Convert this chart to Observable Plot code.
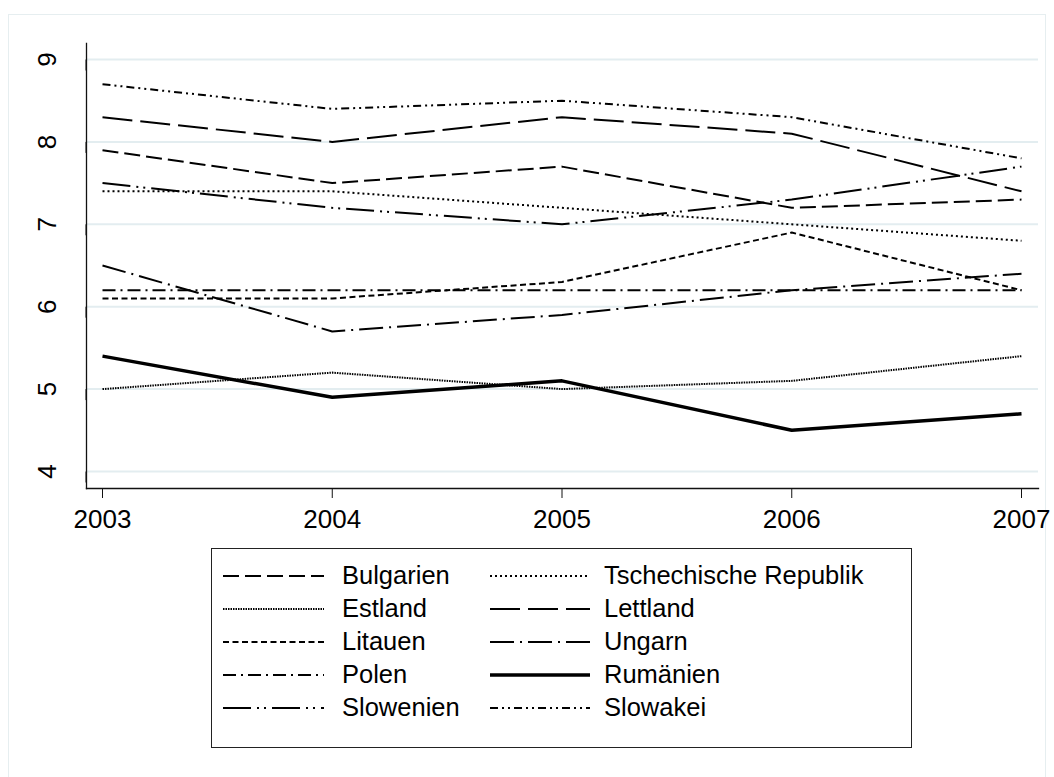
<!DOCTYPE html>
<html>
<head>
<meta charset="utf-8">
<script src="https://cdn.jsdelivr.net/npm/d3@7"></script>
<script src="https://cdn.jsdelivr.net/npm/@observablehq/plot@0.6"></script>
<style>
  html, body { margin: 0; padding: 0; background: #fff; }
  body { width: 1054px; height: 777px; position: relative; overflow: hidden; font-family: "Liberation Sans", Arial, sans-serif; }
  #outer { position: absolute; left: 8px; top: 14px; width: 1038px; height: 800px; border: 1px solid #e6eef0; box-sizing: border-box; }
  #chart { position: absolute; left: 0; top: 0; }
  #legend { position: absolute; left: 211px; top: 548px; width: 701px; height: 200px; border: 1.5px solid #222; box-sizing: border-box; background: #fff; }
  .item { position: absolute; height: 33px; display: flex; align-items: center; font-size: 25.5px; color: #000; white-space: nowrap; }
  .item svg { display: block; }
</style>
</head>
<body>
<div id="outer"></div>
<div id="chart"></div>
<div id="legend"></div>
<script>
// ---- data ----
const years = [2003, 2004, 2005, 2006, 2007];
const yTicks = [4, 5, 6, 7, 8, 9];
const countries = ["Bulgarien", "Tschechische Republik", "Estland", "Lettland", "Litauen",
                   "Ungarn", "Polen", "Rumänien", "Slowenien", "Slowakei"];
const bulgarien  = [7.9, 7.5, 7.7, 7.2, 7.3];
const tschechien = [7.4, 7.4, 7.2, 7.0, 6.8];
const estland    = [5.0, 5.2, 5.0, 5.1, 5.4];
const lettland   = [8.3, 8.0, 8.3, 8.1, 7.4];
const litauen    = [6.1, 6.1, 6.3, 6.9, 6.2];
const ungarn     = [6.5, 5.7, 5.9, 6.2, 6.4];
const polen      = [6.2, 6.2, 6.2, 6.2, 6.2];
const rumaenien  = [5.4, 4.9, 5.1, 4.5, 4.7];
const slowenien  = [7.5, 7.2, 7.0, 7.3, 7.7];
const slowakei   = [8.7, 8.4, 8.5, 8.3, 7.8];

const seriesValues = [bulgarien, tschechien, estland, lettland, litauen,
                      ungarn, polen, rumaenien, slowenien, slowakei];

// ---- styles ----
const styles = {
  "Bulgarien":             {dash: "16,6",             width: 2},
  "Tschechische Republik": {dash: "2,3",              width: 2},
  "Estland":               {dash: "1.5,1",            width: 2},
  "Lettland":              {dash: "30,8",             width: 2},
  "Litauen":               {dash: "6,3.5",            width: 2},
  "Ungarn":                {dash: "24,6,2,6",         width: 2},
  "Polen":                 {dash: "13,5,2,5",         width: 2},
  "Rumänien":              {dash: null,               width: 3.5},
  "Slowenien":             {dash: "28,6,2,5,2,6",     width: 2},
  "Slowakei":              {dash: "8,4,2,4,2,4",      width: 2}
};

const rows = countries.map((c, i) => years.map((yr, j) => ({country: c, year: yr, value: seriesValues[i][j]})));

const lineMarks = rows.map((data, i) => {
  const s = styles[countries[i]];
  const opts = {x: "year", y: "value", stroke: "#000", strokeWidth: s.width, strokeLinecap: "butt", strokeLinejoin: "miter"};
  if (s.dash) opts.strokeDasharray = s.dash;
  return Plot.line(data, opts);
});

const chart = Plot.plot({
  width: 1054,
  height: 540,
  marginLeft: 86,
  marginRight: 16,
  marginTop: 43,
  marginBottom: 52,
  style: {fontFamily: "Liberation Sans, Arial, sans-serif", fontSize: "26px", color: "#000", background: "transparent"},
  x: {domain: [2003, 2007], insetLeft: 16, insetRight: 17, label: null},
  y: {domain: [4, 9], insetTop: 16, insetBottom: 17, label: null},
  marks: [
    Plot.gridY(yTicks, {stroke: "#e3edf0", strokeOpacity: 1, strokeWidth: 2}),
    ...lineMarks,
    Plot.frame({anchor: "left", stroke: "#111", strokeWidth: 1.3}),
    Plot.frame({anchor: "bottom", stroke: "#111", strokeWidth: 1.3}),
    Plot.axisY(yTicks, {tickSize: 11, tickPadding: 28, rotate: -90, textAnchor: "middle", lineAnchor: "middle", tickFormat: d => String(d), label: null, stroke: "#111", fontSize: 26}),
    Plot.axisX(years, {tickSize: 10, tickPadding: 11, tickFormat: d => String(d), label: null, stroke: "#111", fontSize: 26})
  ]
});
document.getElementById("chart").appendChild(chart);

// ---- legend (HTML) ----
const legend = document.getElementById("legend");
const colX = [{sx: 11, tx: 130}, {sx: 278, tx: 392}];
countries.forEach((c, i) => {
  const col = i % 2, row = Math.floor(i / 2);
  const s = styles[c];
  const item = document.createElement("div");
  item.className = "item";
  item.style.left = colX[col].sx + "px";
  item.style.top = (10 + row * 33) + "px";
  const w = col === 0 ? 101 : 100;
  const gap = colX[col].tx - colX[col].sx - w;
  const sw = d3.create("svg").attr("width", w).attr("height", 20);
  sw.append("line").attr("x1", 0).attr("x2", w).attr("y1", 10).attr("y2", 10)
    .attr("stroke", "#000").attr("stroke-width", s.width)
    .attr("stroke-dasharray", s.dash || null);
  item.appendChild(sw.node());
  const t = document.createElement("span");
  t.textContent = c;
  t.style.marginLeft = gap + "px";
  item.appendChild(t);
  legend.appendChild(item);
});
</script>
</body>
</html>
